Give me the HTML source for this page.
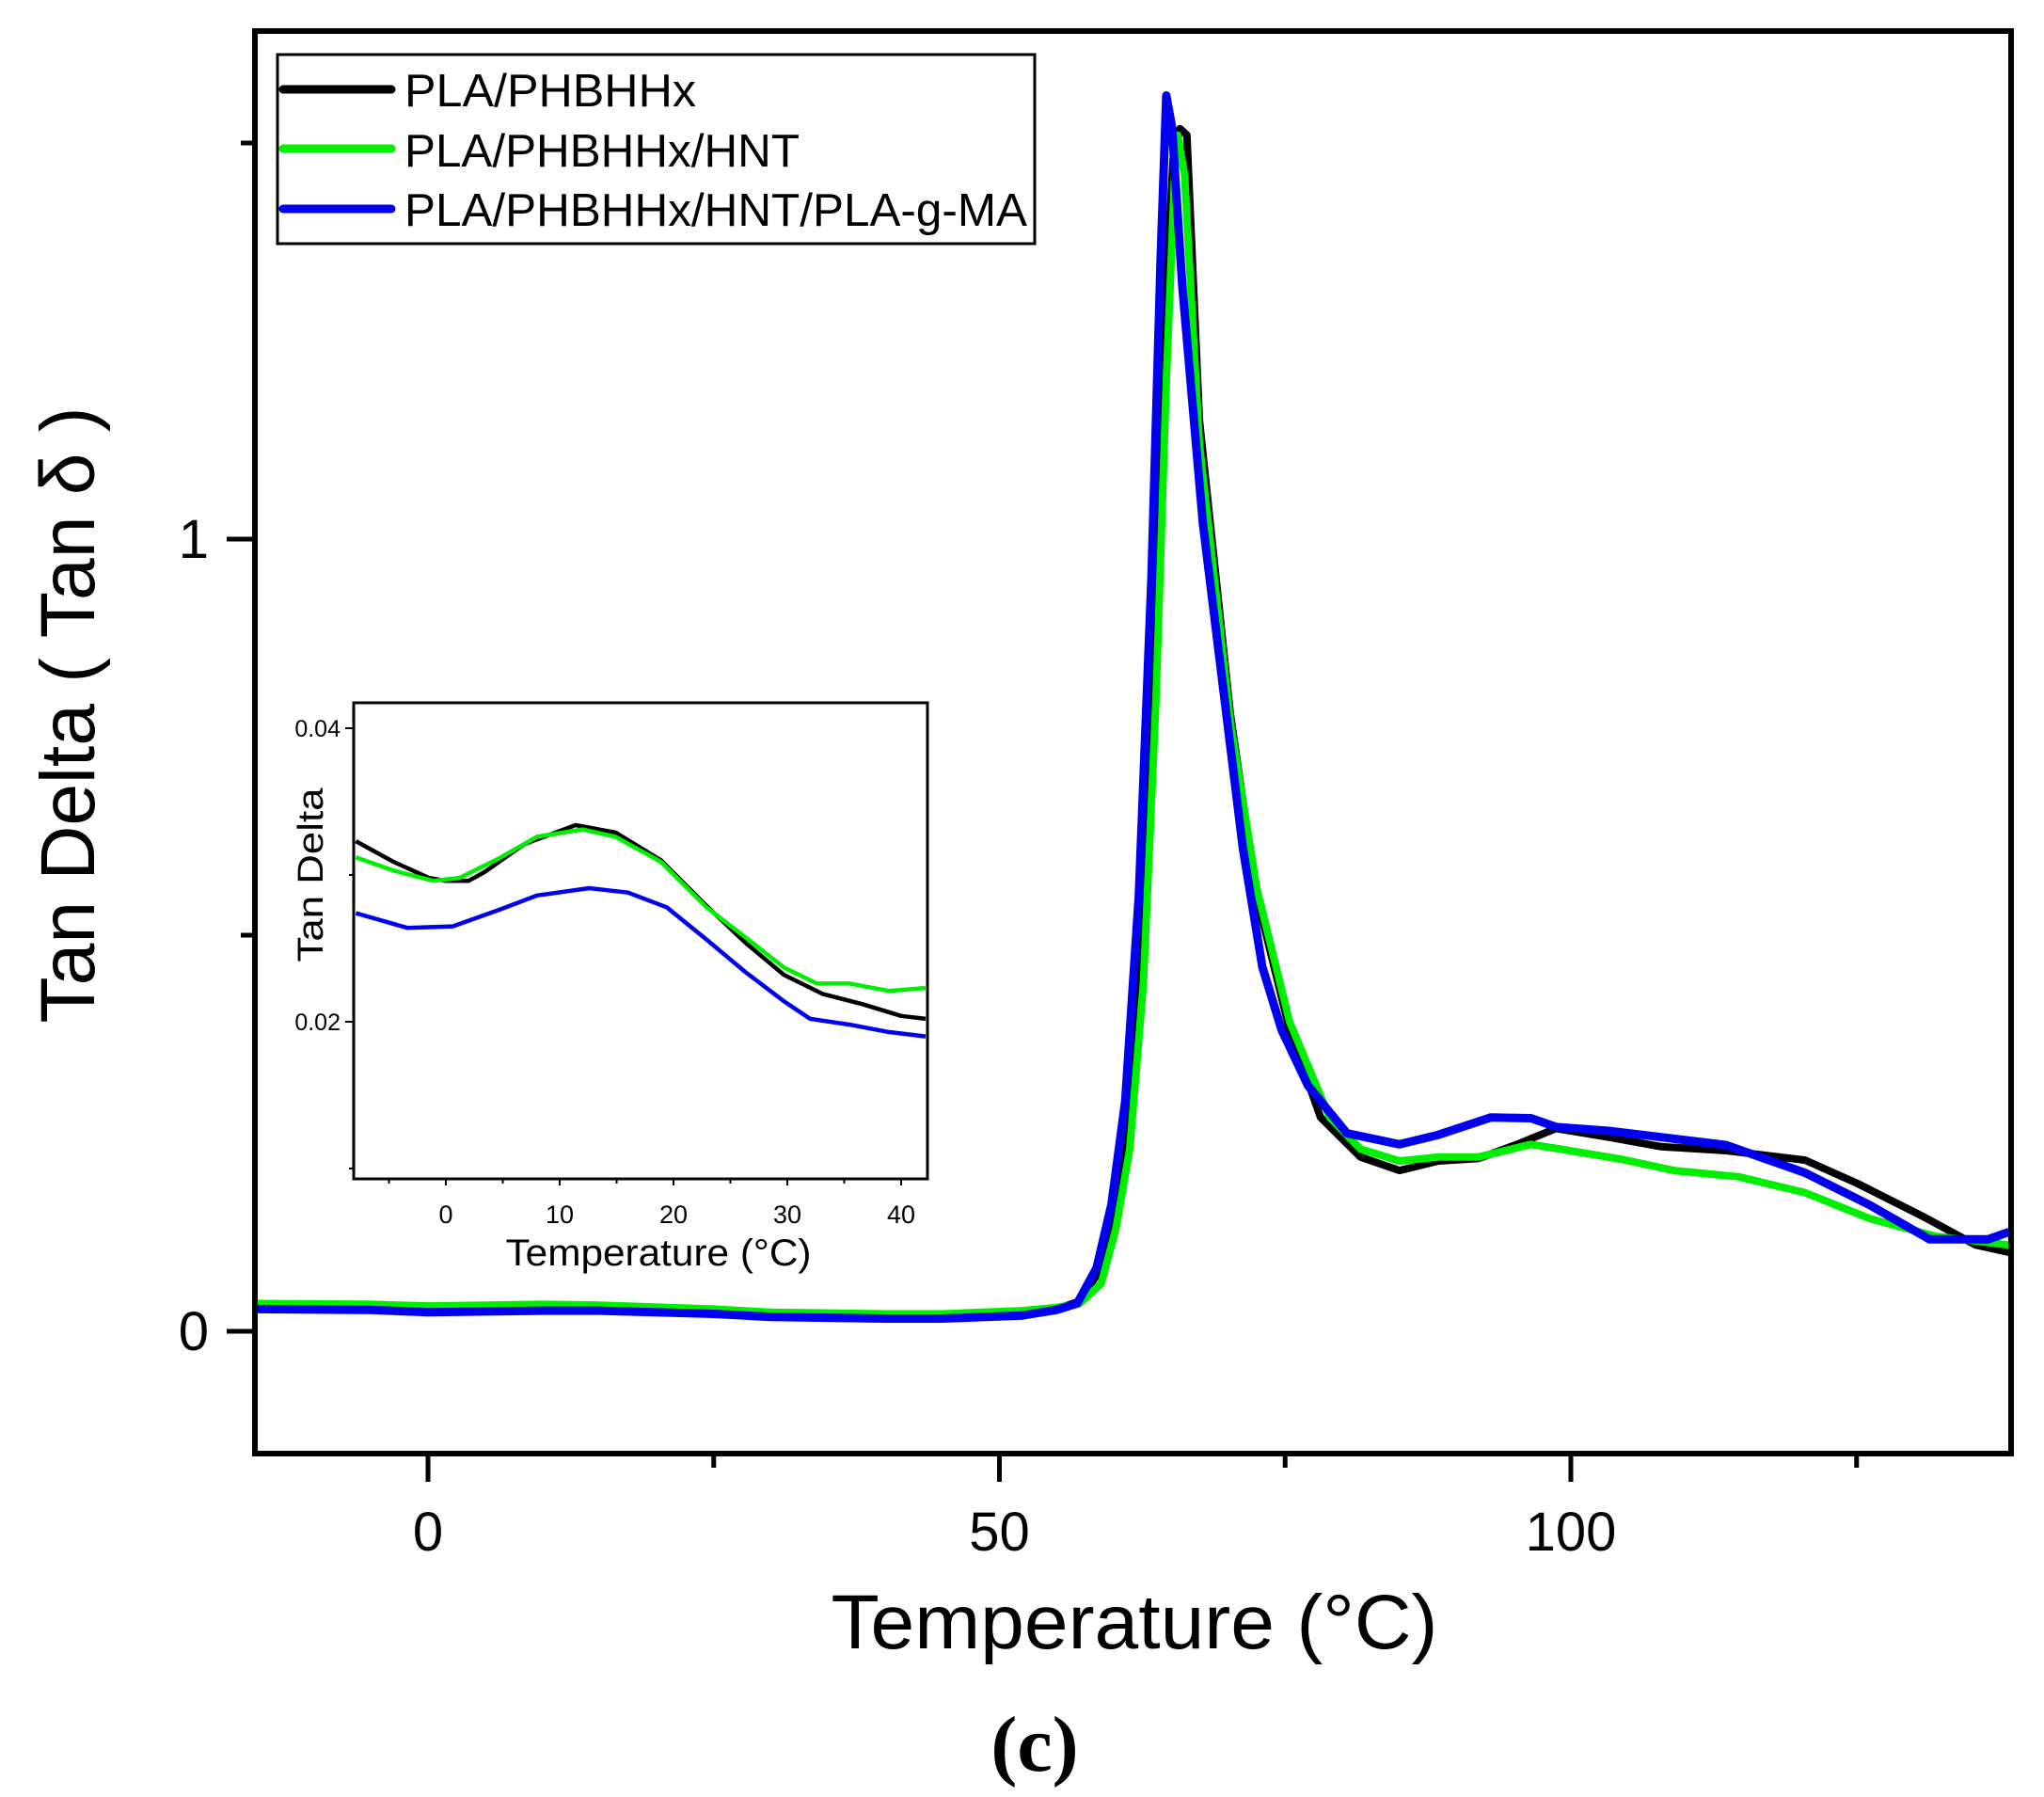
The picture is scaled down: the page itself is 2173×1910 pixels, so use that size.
<!DOCTYPE html>
<html><head><meta charset="utf-8"><style>
html,body{margin:0;padding:0;background:#fff}
svg{display:block}
text{font-family:"Liberation Sans",sans-serif}
</style></head><body>
<svg id="chart" width="2173" height="1910" viewBox="0 0 2173 1910" xmlns="http://www.w3.org/2000/svg">
<rect x="0" y="0" width="2173" height="1910" fill="#fff"/>
<g id="main-lines"></g>
<rect x="271" y="33" width="1867" height="1512" fill="none" stroke="#000" stroke-width="6"/>
<g id="axes"></g>
<text transform="translate(100,760) rotate(-90)" text-anchor="middle" font-size="82" textLength="655" lengthAdjust="spacingAndGlyphs">Tan Delta ( Tan δ )</text>
<text x="1206" y="1752" text-anchor="middle" font-size="82" textLength="645" lengthAdjust="spacingAndGlyphs">Temperature (°C)</text>
<text x="1100" y="1882" text-anchor="middle" font-size="84" font-weight="bold" style="font-family:'Liberation Serif',serif">(c)</text>
<g>
<rect x="295" y="58" width="805" height="201" fill="#fff" stroke="#000" stroke-width="3"/>
<line x1="301" y1="95" x2="416" y2="95" stroke="#000" stroke-width="9" stroke-linecap="round"/>
<line x1="301" y1="158" x2="416" y2="158" stroke="#00ee00" stroke-width="9" stroke-linecap="round"/>
<line x1="301" y1="222" x2="416" y2="222" stroke="#0000ee" stroke-width="9" stroke-linecap="round"/>
<text x="430" y="113" font-size="49" textLength="310" lengthAdjust="spacingAndGlyphs">PLA/PHBHHx</text>
<text x="430" y="177" font-size="49" textLength="420" lengthAdjust="spacingAndGlyphs">PLA/PHBHHx/HNT</text>
<text x="430" y="240" font-size="49" textLength="662" lengthAdjust="spacingAndGlyphs">PLA/PHBHHx/HNT/PLA-g-MA</text>
</g>
<g>
<rect x="376" y="747" width="610" height="506" fill="#fff"/>
<g id="inset-lines"></g>
<rect x="376" y="747" width="610" height="506" fill="none" stroke="#000" stroke-width="3"/>
<g id="inset-axes"></g>
<text transform="translate(343,930) rotate(-90)" text-anchor="middle" font-size="38" textLength="185" lengthAdjust="spacingAndGlyphs">Tan Delta</text>
<text x="700" y="1345" text-anchor="middle" font-size="40" textLength="325" lengthAdjust="spacingAndGlyphs">Temperature (°C)</text>
</g>
</svg>
<script>
const blackX=[-15,-5,0,10,15,25,30,40,45,52,55,57,58.7,60,61.2,62.4,63.5,64.4,65.2,65.8,66.4,67.5,70.2,72.5,75.4,78.1,81.6,85,88.4,91.9,95.3,98.7,103.3,107.9,113.6,120.5,125,130.8,135.4,140];
const blackY=[0.032,0.031,0.029,0.03,0.029,0.026,0.021,0.019,0.019,0.022,0.028,0.038,0.075,0.15,0.26,0.48,0.86,1.27,1.48,1.518,1.51,1.15,0.78,0.55,0.38,0.27,0.22,0.203,0.215,0.218,0.236,0.256,0.245,0.233,0.228,0.216,0.187,0.145,0.109,0.1];
const greenX=[-15,-5,0,10,15,25,30,40,45,52,55,57,58.9,60.2,61.4,62.6,63.7,64.6,65.3,65.6,66.2,67.5,70.2,72.5,75.4,78.9,81.6,85,88.4,91.9,96.5,99.9,104.5,109,114.7,120.5,126.2,131.9,139.5];
const greenY=[0.035,0.034,0.032,0.034,0.033,0.028,0.024,0.022,0.022,0.026,0.03,0.035,0.06,0.13,0.23,0.44,0.8,1.2,1.45,1.51,1.46,1.12,0.77,0.56,0.39,0.27,0.23,0.215,0.22,0.22,0.236,0.228,0.217,0.203,0.195,0.175,0.142,0.12,0.109];
const blueX=[-15,-5,0,10,15,25,30,40,45,52,55,56.8,58.5,59.8,61,62.2,63.3,64.1,64.6,65.1,66,67.8,71.3,73,74.7,77,80.4,85,88.4,93,96.5,98.7,103.3,107.9,113.6,120.5,126.2,131.4,136.5,140];
const blueY=[0.028,0.027,0.024,0.026,0.026,0.022,0.018,0.016,0.016,0.02,0.027,0.035,0.08,0.16,0.29,0.55,0.95,1.35,1.56,1.52,1.32,1.02,0.61,0.46,0.38,0.31,0.25,0.236,0.248,0.27,0.269,0.258,0.253,0.245,0.235,0.2,0.159,0.116,0.116,0.125];
const xTicks=[0,50,100];
const xMinor=[25,75,125];
const yTicks=[0,1];
const yMinor=[0.5,1.5];
const insBlackX=[-7.9,-4.6,-1.5,0,2,3.4,6.9,11.4,14.9,18.9,22.9,26.3,29.7,33.1,36.6,40,42.9];
const insBlackY=[0.0323,0.0309,0.0298,0.0296,0.0296,0.0302,0.0321,0.0334,0.0329,0.031,0.0279,0.0254,0.0232,0.0219,0.0212,0.0204,0.0202];
const insGreenX=[-7.9,-4.6,-1.1,1.2,4.6,8,12,14.9,18.9,22.9,26.9,29.7,32.6,35.5,38.9,42.9];
const insGreenY=[0.0312,0.0303,0.0296,0.0298,0.0311,0.0326,0.0331,0.0326,0.0309,0.0278,0.0254,0.0237,0.0226,0.0226,0.0221,0.0223];
const insBlueX=[-7.9,-3.4,0.6,4.6,8,12.6,16,19.4,22.9,26.3,29.7,32,35.5,38.9,42.9];
const insBlueY=[0.0274,0.0264,0.0265,0.0276,0.0286,0.0291,0.0288,0.0278,0.0256,0.0234,0.0214,0.0202,0.0198,0.0193,0.019];
const insXTicks=[0,10,20,30,40];
const insXMinor=[-5,5,15,25,35];
const insYTicks=[0.02,0.04];
const insYMinor=[0.01,0.03];

const NS='http://www.w3.org/2000/svg';
const xm=v=>455+12.15*v, ym=v=>1415-842*v;
const xi=v=>474+12.1*v, yi=v=>1086-15600*(v-0.02);
function mk(tag,parent,attrs){const e=document.createElementNS(NS,tag);for(const k in attrs)e.setAttribute(k,attrs[k]);parent.appendChild(e);return e;}
function clamp(v,a,b){return Math.max(a,Math.min(b,v));}
function path(xs,ys,fx,fy,x0,x1){return xs.map((x,i)=>(i?'L':'M')+clamp(fx(x),x0,x1).toFixed(1)+','+fy(ys[i]).toFixed(1)).join(' ');}
const main=document.getElementById('main-lines');
[[blackX,blackY,'#000',8,'line-pla-phbhhx'],[greenX,greenY,'#00ee00',8,'line-pla-phbhhx-hnt'],[blueX,blueY,'#0000ee',9,'line-pla-phbhhx-hnt-pla-g-ma']].forEach(s=>{
const p=mk('path',main,{d:path(s[0],s[1],xm,ym,274,2135),fill:'none',stroke:s[2],'stroke-width':s[3],'stroke-linejoin':'round','stroke-linecap':'round'});


});
const ins=document.getElementById('inset-lines');
[[insBlackX,insBlackY,'#000','inset-line-pla-phbhhx'],[insGreenX,insGreenY,'#00ee00','inset-line-hnt'],[insBlueX,insBlueY,'#0000ee','inset-line-pla-g-ma']].forEach(s=>{
const p=mk('path',ins,{d:path(s[0],s[1],xi,yi,378,984),fill:'none',stroke:s[2],'stroke-width':4.5,'stroke-linejoin':'round'});


});
const ax=document.getElementById('axes');
xTicks.forEach(v=>{const l=mk('line',ax,{x1:xm(v),x2:xm(v),y1:1545,y2:1575,stroke:'#000','stroke-width':5});


const t=mk('text',ax,{x:xm(v),y:1648,'text-anchor':'middle','font-size':58});t.textContent=v;

});
xMinor.forEach(v=>{const l=mk('line',ax,{x1:xm(v),x2:xm(v),y1:1545,y2:1560,stroke:'#000','stroke-width':5});

});
yTicks.forEach(v=>{const l=mk('line',ax,{x1:241,x2:271,y1:ym(v),y2:ym(v),stroke:'#000','stroke-width':5});


const t=mk('text',ax,{x:222,y:ym(v)+20,'text-anchor':'end','font-size':58});t.textContent=v;

});
yMinor.forEach(v=>{const l=mk('line',ax,{x1:256,x2:271,y1:ym(v),y2:ym(v),stroke:'#000','stroke-width':5});

});
const ia=document.getElementById('inset-axes');
insXTicks.forEach(v=>{const l=mk('line',ia,{x1:xi(v),x2:xi(v),y1:1253,y2:1260,stroke:'#000','stroke-width':2});


const t=mk('text',ia,{x:xi(v),y:1300,'text-anchor':'middle','font-size':27});t.textContent=v;

});
insXMinor.forEach(v=>{const l=mk('line',ia,{x1:xi(v),x2:xi(v),y1:1253,y2:1258,stroke:'#000','stroke-width':2});

});
insYTicks.forEach(v=>{const l=mk('line',ia,{x1:367,x2:376,y1:yi(v),y2:yi(v),stroke:'#000','stroke-width':2});


const t=mk('text',ia,{x:362,y:yi(v)+9,'text-anchor':'end','font-size':25});t.textContent=v.toFixed(2);

});
insYMinor.forEach(v=>{const l=mk('line',ia,{x1:371,x2:376,y1:yi(v),y2:yi(v),stroke:'#000','stroke-width':2});

});
</script>
</body></html>
